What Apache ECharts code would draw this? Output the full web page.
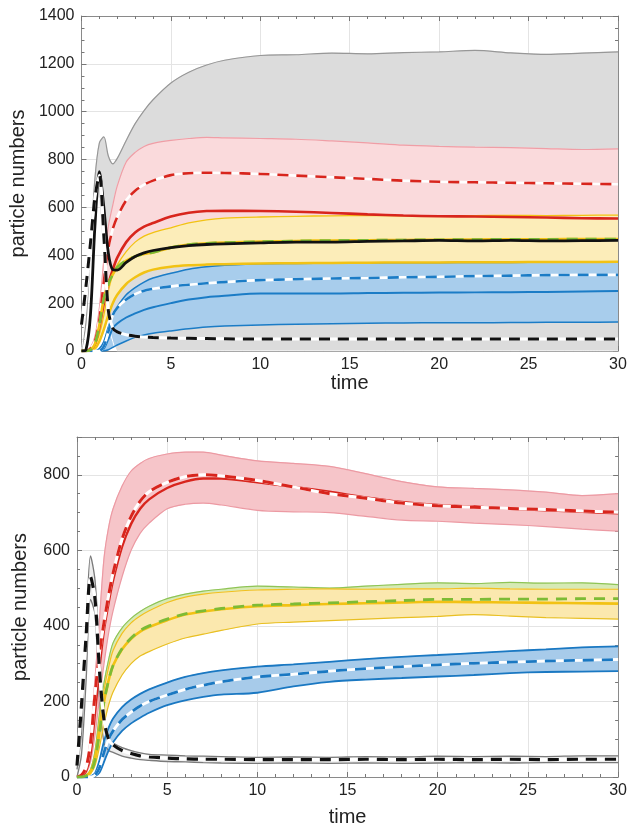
<!DOCTYPE html>
<html>
<head>
<meta charset="utf-8">
<script src="https://cdn.jsdelivr.net/npm/echarts@6/dist/echarts.min.js"></script>
<style>
  html, body { margin: 0; padding: 0; background: #fff; }
  #chart { width: 630px; height: 829px; }
</style>
</head>
<body>
<div id="chart"></div>
<script>
// shared time samples for both panels
var T = [0, 0.25, 0.5, 0.75, 1, 1.25, 1.5, 1.75, 2, 2.5, 3, 3.5, 4, 5, 6, 7, 8, 10, 12, 14, 16, 18, 20, 22, 24, 26, 28, 30];

// ---- top panel ----
var topGrayHi   = [0, 120, 420, 720, 870, 895, 815, 782, 805, 880, 950, 1005, 1050, 1120, 1165, 1195, 1215, 1235, 1238, 1245, 1242, 1247, 1250, 1256, 1246, 1240, 1245, 1250];
var topGrayLo   = [0, 170, 390, 610, 640, 380, 120, 40, 0, 0, 0, 0, 0, 0, 0, 0, 0, 0, 0, 0, 0, 0, 0, 0, 0, 0, 0, 0];
var topPinkHi   = [0, 0, 15, 60, 180, 380, 520, 610, 690, 790, 830, 855, 868, 880, 888, 893, 891, 888, 885, 878, 870, 860, 855, 852, 850, 846, 842, 845];
var topPinkLo   = [0, 0, 3, 10, 40, 90, 150, 200, 235, 280, 308, 328, 340, 352, 358, 361, 363, 366, 367, 368, 369, 370, 370, 371, 371, 372, 372, 373];
var topRedMean  = [0, 0, 10, 40, 130, 290, 430, 510, 560, 630, 670, 695, 712, 735, 743, 745, 744, 740, 733, 726, 719, 712, 707, 705, 703, 701, 699, 697];
var topRedMed   = [0, 0, 5, 30, 100, 200, 280, 340, 390, 455, 495, 520, 535, 562, 578, 585, 586, 585, 582, 577, 571, 566, 563, 562, 560, 558, 555, 554];
var topYelHi    = [0, 0, 5, 20, 70, 150, 250, 320, 360, 415, 455, 480, 495, 515, 535, 548, 555, 560, 563, 565, 566, 565, 566, 566, 567, 566, 567, 568];
var topYelLo    = [0, 0, 3, 10, 40, 90, 150, 200, 235, 280, 308, 328, 340, 352, 358, 361, 363, 366, 367, 368, 369, 370, 370, 371, 371, 372, 372, 373];
var topGreenMean = [0, 0, 5, 30, 110, 220, 280, 320, 350, 378, 395, 405, 412, 432, 445, 450, 453, 457, 460, 462, 463, 464, 465, 466, 467, 467, 468, 468];
var topBlackMed = [0, 5, 150, 520, 750, 600, 410, 340, 338, 370, 395, 410, 420, 432, 440, 445, 448, 452, 455, 455, 458, 460, 462, 460, 462, 460, 461, 462];
var topBlueHi   = [0, 0, 0, 0, 10, 40, 100, 150, 185, 235, 265, 288, 305, 325, 342, 352, 358, 365, 366, 367, 368, 369, 369, 370, 370, 371, 371, 372];
var topBlueLo   = [0, 0, 0, 0, 0, 0, 5, 15, 25, 42, 57, 67, 74, 84, 93, 100, 104, 109, 112, 114, 116, 117, 118, 118, 119, 120, 120, 121];
var topBlueMed  = [0, 0, 0, 0, 0, 10, 50, 95, 115, 140, 157, 172, 183, 200, 215, 225, 231, 240, 240, 240, 242, 243, 244, 245, 246, 247, 249, 251];
var topBlueMean = [0, 0, 0, 0, 0, 20, 80, 150, 180, 215, 238, 252, 260, 270, 277, 283, 288, 296, 300, 303, 305, 308, 310, 313, 315, 317, 318, 318];
var topBlackMean = [110, 270, 450, 640, 735, 480, 170, 95, 80, 68, 62, 58, 56, 54, 53, 52, 51, 50, 50, 50, 50, 50, 50, 50, 50, 50, 50, 50];

// ---- bottom panel ----
var botGrayHi   = [20, 120, 380, 585, 520, 330, 160, 100, 90, 78, 70, 64, 60, 58, 56, 55, 54, 52, 53, 52, 54, 53, 55, 54, 55, 54, 56, 56];
var botGrayLo   = [0, 60, 250, 470, 430, 200, 90, 70, 65, 55, 50, 46, 44, 41, 40, 38, 37, 36, 37, 36, 37, 36, 37, 38, 37, 38, 38, 38];
var botBlackMean = [30, 190, 370, 530, 470, 280, 150, 100, 85, 70, 62, 56, 53, 50, 48, 47, 47, 46, 46, 46, 47, 46, 47, 46, 47, 46, 47, 47];
var botRedHi    = [0, 5, 30, 110, 260, 420, 580, 660, 710, 770, 810, 830, 843, 855, 860, 860, 852, 837, 830, 822, 803, 782, 768, 764, 760, 754, 745, 750];
var botRedLo    = [0, 2, 10, 40, 110, 210, 300, 380, 440, 530, 600, 645, 672, 710, 722, 725, 720, 706, 702, 700, 690, 680, 677, 672, 668, 663, 656, 651];
var botRedMean  = [0, 5, 25, 90, 220, 330, 410, 480, 540, 630, 690, 730, 755, 780, 795, 800, 797, 785, 768, 750, 738, 725, 718, 714, 711, 708, 704, 701];
var botRedMed   = [0, 3, 15, 60, 170, 290, 390, 460, 520, 610, 670, 710, 735, 765, 782, 790, 790, 780, 768, 755, 740, 728, 720, 716, 710, 706, 702, 698];
var botGreenHi  = [0, 0, 5, 20, 70, 170, 250, 310, 355, 395, 420, 438, 452, 472, 484, 492, 497, 505, 503, 500, 505, 510, 514, 512, 515, 513, 514, 509];
var botYelHi    = [0, 0, 5, 18, 60, 150, 230, 290, 335, 380, 408, 426, 440, 462, 476, 484, 489, 495, 497, 498, 497, 498, 498, 500, 498, 497, 497, 497];
var botYelLo    = [0, 0, 2, 8, 30, 80, 140, 190, 225, 270, 300, 320, 332, 352, 368, 378, 388, 405, 410, 414, 418, 422, 425, 430, 426, 422, 420, 418];
var botGreenMean = [0, 0, 3, 12, 45, 120, 200, 255, 295, 340, 368, 388, 400, 418, 432, 440, 446, 455, 458, 461, 464, 467, 470, 470, 471, 471, 472, 472];
var botYelMed   = [0, 0, 3, 12, 45, 120, 200, 255, 295, 338, 366, 385, 397, 415, 430, 438, 444, 452, 455, 458, 460, 462, 464, 463, 462, 461, 460, 459];
var botBlueHi   = [0, 0, 0, 2, 10, 45, 95, 130, 155, 185, 205, 220, 232, 250, 265, 275, 282, 292, 298, 305, 312, 318, 323, 328, 333, 338, 343, 346];
var botBlueLo   = [0, 0, 0, 0, 2, 12, 40, 70, 92, 122, 142, 157, 170, 190, 203, 212, 218, 223, 240, 252, 258, 262, 266, 270, 275, 278, 279, 280];
var botBlueMean = [0, 0, 0, 0, 5, 25, 65, 100, 122, 152, 172, 188, 200, 217, 232, 243, 252, 265, 272, 280, 287, 292, 297, 301, 304, 307, 309, 311];

var FONT = 'Liberation Sans';
var SMOOTH = 0.3;

function pts(arr) {
  return T.map(function (t, i) { return [t, arr[i]]; });
}

// filled band between lo and hi, drawn as one polygon through the axes' scales
function band(g, lo, hi, fill, z) {
  var rows = T.map(function (t, i) { return [t, lo[i], hi[i]]; });
  return {
    type: 'custom', xAxisIndex: g, yAxisIndex: g, data: rows, z: z, silent: true,
    encode: { x: 0, y: [1, 2] },
    renderItem: function (params, api) {
      if (params.dataIndex !== 0) return null;
      var up = rows.map(function (r) { return api.coord([r[0], r[2]]); });
      var dn = rows.map(function (r) { return api.coord([r[0], r[1]]); }).reverse();
      var cs = params.coordSys;
      return {
        type: 'group',
        clipPath: { type: 'rect', shape: { x: cs.x, y: cs.y, width: cs.width, height: cs.height } },
        children: [
          { type: 'polyline', shape: { points: up, smooth: SMOOTH }, style: { fill: null, stroke: fill, lineWidth: 1 } },
          { type: 'polygon', shape: { points: up.concat(dn), smooth: 0 }, style: { fill: fill } }
        ]
      };
    }
  };
}

function line(g, arr, color, width, dash, z) {
  return {
    type: 'line', xAxisIndex: g, yAxisIndex: g, data: pts(arr),
    symbol: 'none', smooth: SMOOTH,
    lineStyle: { color: color, width: width, type: dash || 'solid', cap: 'butt' },
    z: z, silent: true
  };
}

// dashed line drawn over a white line
function dashed(g, arr, color, width, z) {
  return [
    line(g, arr, '#ffffff', width, 'solid', z),
    line(g, arr, color, width, [11, 8], z + 0.1)
  ];
}

var series = [].concat(
  [
    band(0, topGrayLo, topGrayHi, '#dcdcdc', 1),
    band(0, topPinkLo, topPinkHi, '#fadadc', 2),
    band(0, topYelLo, topYelHi, '#fcedb9', 3),
    band(0, topBlueLo, topBlueHi, '#a8cdec', 4),
    line(0, topGrayHi, '#979797', 1.2, 'solid', 5),
    line(0, topGrayLo, '#ffffff', 1, 'solid', 5),
    line(0, topPinkHi, '#ef9ea6', 1.2, 'solid', 5),
    line(0, topYelHi, '#f2c214', 1.3, 'solid', 5),
    line(0, topBlueLo, '#1b7cc6', 1.5, 'solid', 5),
    line(0, topBlueHi, '#1b7cc6', 1.5, 'solid', 5),
    line(0, topYelLo, '#f2c214', 2.5, 'solid', 5.2),
    line(0, topBlueMed, '#1b7cc6', 2, 'solid', 6),
    line(0, topRedMed, '#d8251d', 2.6, 'solid', 6)
  ],
  dashed(0, topBlueMean, '#1b7cc6', 2.6, 6),
  dashed(0, topRedMean, '#d8251d', 2.6, 6),
  [
    line(0, topGreenMean, '#f2c214', 2.6, 'solid', 6.5),
    line(0, topGreenMean, '#7dbb35', 2.6, [11, 8], 6.6),
    line(0, topBlackMed, '#111111', 2.8, 'solid', 7)
  ],
  dashed(0, topBlackMean, '#111111', 3, 8),
  [
    band(1, botGrayLo, botGrayHi, '#eeeeee', 1),
    band(1, botRedLo, botRedHi, '#f6c5c9', 2),
    band(1, botYelLo, botGreenHi, '#d6eab5', 2),
    band(1, botYelLo, botYelHi, '#fbe8ae', 3),
    band(1, botBlueLo, botBlueHi, '#a7cbea', 3),
    line(1, botGrayHi, '#7a7a7a', 1.3, 'solid', 5),
    line(1, botGrayLo, '#7a7a7a', 1.3, 'solid', 5),
    line(1, botRedHi, '#ec9aa3', 1.2, 'solid', 5),
    line(1, botRedLo, '#ec9aa3', 1.2, 'solid', 5),
    line(1, botGreenHi, '#8fc456', 1.2, 'solid', 5),
    line(1, botYelHi, '#f0c020', 1.2, 'solid', 5),
    line(1, botYelLo, '#e9bf22', 1.2, 'solid', 5),
    line(1, botBlueHi, '#1a78c2', 1.8, 'solid', 5),
    line(1, botBlueLo, '#1a78c2', 1.8, 'solid', 5),
    line(1, botRedMed, '#d8251d', 2.4, 'solid', 6),
    line(1, botYelMed, '#f2c214', 2.6, 'solid', 6)
  ],
  dashed(1, botBlueMean, '#1a78c2', 2.8, 6),
  dashed(1, botRedMean, '#d8251d', 3, 6.2),
  [line(1, botGreenMean, '#7dbb35', 2.8, [11, 8], 6.6)],
  dashed(1, botBlackMean, '#111111', 3.2, 8)
);

var tickStyle = { color: '#777' };
function xAx(g, pos, showLabel, name, gap) {
  return {
    type: 'value', gridIndex: g, position: pos, min: 0, max: 30, interval: 5,
    name: name || '', nameLocation: 'middle', nameGap: gap || 0,
    nameTextStyle: { fontFamily: FONT, fontSize: 20, color: '#222' },
    axisLine: { show: true, onZero: false, lineStyle: { color: '#8a8a8a', width: 1 } },
    axisTick: { show: true, inside: true, length: 5, lineStyle: tickStyle },
    minorTick: { show: true, splitNumber: 5, length: 3, lineStyle: tickStyle },
    axisLabel: { show: showLabel, fontFamily: FONT, fontSize: 16, color: '#222', margin: 6 },
    splitLine: { show: showLabel, lineStyle: { color: '#e4e4e4', width: 1 } },
    minorSplitLine: { show: false }
  };
}
function yAx(g, pos, showLabel, max, interval, name) {
  return {
    type: 'value', gridIndex: g, position: pos, min: 0, max: max, interval: interval,
    name: name || '', nameLocation: 'middle', nameGap: 47,
    nameTextStyle: { fontFamily: FONT, fontSize: 20, color: '#222' },
    axisLine: { show: true, onZero: false, lineStyle: { color: '#8a8a8a', width: 1 } },
    axisTick: { show: true, inside: true, length: 5, lineStyle: tickStyle },
    minorTick: { show: true, splitNumber: 4, length: 3, lineStyle: tickStyle },
    axisLabel: {
      show: showLabel, fontFamily: FONT, fontSize: 16, color: '#222', margin: 7,
      formatter: function (v) { return v % 200 === 0 ? String(v) : ''; }
    },
    splitLine: { show: showLabel, lineStyle: { color: '#e4e4e4', width: 1 } }
  };
}

var chart = echarts.init(document.getElementById('chart'), null, { renderer: 'canvas' });
chart.setOption({
  backgroundColor: '#ffffff',
  animation: false,
  grid: [
    { left: 77, top: 16, width: 541, height: 335 },
    { left: 77, top: 437, width: 550, height: 340 }
  ],
  xAxis: [
    xAx(0, 'bottom', true, 'time', 22),
    xAx(1, 'bottom', true, 'time', 30),
    xAx(0, 'top', false),
    xAx(1, 'top', false)
  ],
  yAxis: [
    yAx(0, 'left', true, 1400, 200, 'particle numbers'),
    yAx(1, 'left', true, 900, 200, 'particle numbers'),
    yAx(0, 'right', false, 1400, 200),
    yAx(1, 'right', false, 900, 200)
  ],
  series: series
});
</script>
</body>
</html>
